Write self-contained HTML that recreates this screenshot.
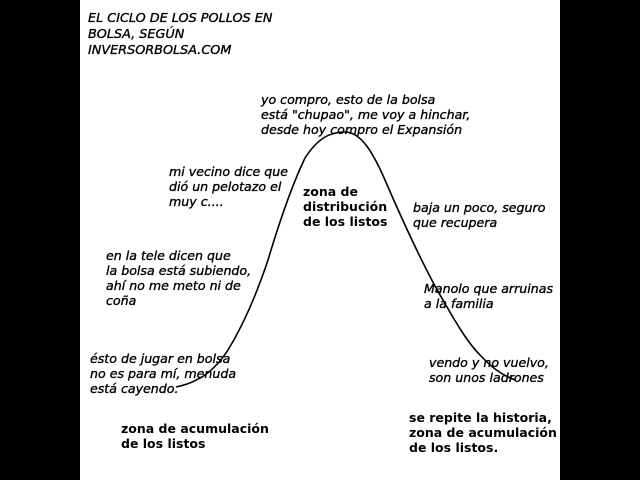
<!DOCTYPE html>
<html><head><meta charset="utf-8"><style>
body{margin:0;width:640px;height:480px;background:#000;position:relative;overflow:hidden}
#w{position:absolute;left:80px;top:0;width:480px;height:480px;background:#fff}
.t{position:absolute;font-family:"DejaVu Sans","Liberation Sans",sans-serif;font-style:oblique;font-size:12.6px;line-height:15px;color:#000;white-space:nowrap;-webkit-text-stroke:0.35px #000}
.b{position:absolute;font-family:"DejaVu Sans","Liberation Sans",sans-serif;font-weight:bold;font-size:12.5px;line-height:15px;color:#000;white-space:nowrap}
svg{position:absolute;left:0;top:0}
</style></head><body>
<div id="w"></div>
<svg width="640" height="480"><path d="M176,387 C200,382 215,370 228,350 C245,322 258,290 268,260 C280,220 292,185 305,158 C318,138 330,132 345,132 C360,132 372,150 385,180 C400,215 425,270 443,300 C460,330 470,345 480,355 C492,368 502,375 515,380" fill="none" stroke="#000" stroke-width="1.6"/></svg>
<div class="t" style="left:88px;top:11px;font-size:12.8px;line-height:16px">EL CICLO DE LOS POLLOS EN<br>BOLSA, SEGÚN<br>INVERSORBOLSA.COM</div>
<div class="t" style="left:261px;top:92px">yo compro, esto de la bolsa<br>está "chupao", me voy a hinchar,<br>desde hoy compro el Expansión</div>
<div class="t" style="left:169px;top:164px">mi vecino dice que<br>dió un pelotazo el<br>muy c....</div>
<div class="b" style="left:303px;top:184px">zona de<br>distribución<br>de los listos</div>
<div class="t" style="left:413px;top:200px">baja un poco, seguro<br>que recupera</div>
<div class="t" style="left:106px;top:248px">en la tele dicen que<br>la bolsa está subiendo,<br>ahí no me meto ni de<br>coña</div>
<div class="t" style="left:424px;top:281px">Manolo que arruinas<br>a la familia</div>
<div class="t" style="left:90px;top:351px">ésto de jugar en bolsa<br>no es para mí, menuda<br>está cayendo.</div>
<div class="t" style="left:429px;top:355px">vendo y no vuelvo,<br>son unos ladrones</div>
<div class="b" style="left:121px;top:421px">zona de acumulación<br>de los listos</div>
<div class="b" style="left:409px;top:410px">se repite la historia,<br>zona de acumulación<br>de los listos.</div>
</body></html>
